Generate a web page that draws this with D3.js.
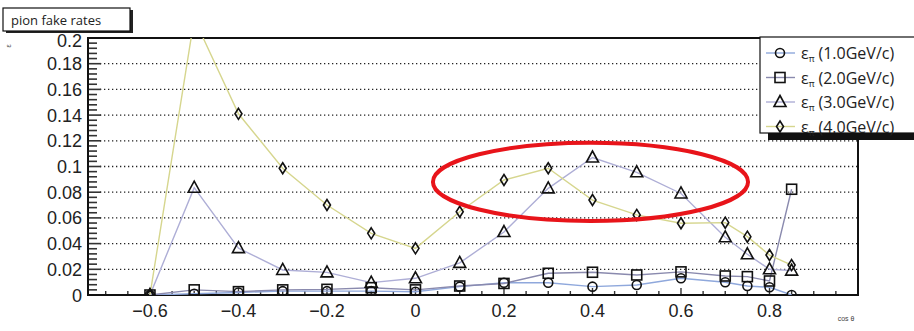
<!DOCTYPE html>
<html>
<head>
<meta charset="utf-8">
<script src="https://cdn.jsdelivr.net/npm/d3@7"></script>
<style>
  html, body { margin: 0; padding: 0; background: #fff; }
  svg { display: block; font-family: "Liberation Sans", Arial, sans-serif; }
</style>
</head>
<body>
<svg id="chart" width="914" height="331"></svg>
<script>
// cos θ bins
const cosTheta = [-0.6, -0.5, -0.4, -0.3, -0.2, -0.1, 0, 0.1, 0.2, 0.3, 0.4, 0.5, 0.6, 0.7, 0.75, 0.8, 0.85];

// fake rates per momentum
const rate1GeV = [0, 0.001, 0.002, 0.003, 0.003, 0.003, 0.0025, 0.0065, 0.0095, 0.0095, 0.0065, 0.0078, 0.013, 0.0099, 0.007, 0.006, 0];
const rate2GeV = [0, 0.004, 0.0026, 0.004, 0.0044, 0.0057, 0.004, 0.007, 0.009, 0.0169, 0.0177, 0.0156, 0.018, 0.0148, 0.0143, 0.0109, 0.0823];
const rate3GeV = [0, 0.0835, 0.0365, 0.0195, 0.0176, 0.0096, 0.013, 0.025, 0.049, 0.083, 0.107, 0.0955, 0.079, 0.0449, 0.0317, 0.020, 0.019];
const rate4GeV = [0, 0.215, 0.141, 0.0986, 0.070, 0.048, 0.0363, 0.0648, 0.0895, 0.0986, 0.0739, 0.0623, 0.0558, 0.0563, 0.0454, 0.0311, 0.0233];

const seriesLabels = ["(1.0GeV/c)", "(2.0GeV/c)", "(3.0GeV/c)", "(4.0GeV/c)"];
const seriesValues = [rate1GeV, rate2GeV, rate3GeV, rate4GeV];
const seriesColors = ["#8fa8dc", "#8a8aae", "#aeaed6", "#d6d68e"];
const seriesMarkers = ["circle", "square", "triangle", "diamond"];

const xTickLabels = [-0.6, -0.4, -0.2, 0, 0.2, 0.4, 0.6, 0.8];
const yTickLabels = [0, 0.02, 0.04, 0.06, 0.08, 0.1, 0.12, 0.14, 0.16, 0.18, 0.2];

// highlighted region (center and half-widths in data units)
const highlightCenter = [0.3955, 0.088];
const highlightRadii = [0.356, 0.0304];

const svg = d3.select("#chart");
const L = 88, R = 858, T = 38, B = 295;

const x = d3.scaleLinear().domain([-0.74, 1.0]).range([L, R]);
const y = d3.scaleLinear().domain([0, 0.2]).range([B, T]);

svg.append("defs").append("clipPath").attr("id", "plotclip")
  .append("rect").attr("x", L).attr("y", T).attr("width", R - L).attr("height", B - T);

// dotted grid at each labelled y value
svg.append("g").selectAll("line").data(yTickLabels.slice(1, -1)).join("line")
  .attr("x1", L + 12).attr("x2", R)
  .attr("y1", d => y(d)).attr("y2", d => y(d))
  .attr("stroke", "#222").attr("stroke-width", 1.3).attr("stroke-dasharray", "1.3,2.7");

// y ticks (drawn inward)
const yMinor = d3.range(0, 0.2001, 0.004);
svg.append("g").selectAll("line").data(yMinor).join("line")
  .attr("x1", L).attr("x2", d => (Math.abs(Math.round(d / 0.02) * 0.02 - d) < 1e-6) ? L + 13 : L + 9)
  .attr("y1", d => y(d)).attr("y2", d => y(d))
  .attr("stroke", "#333").attr("stroke-width", 1.6);

// x ticks (drawn inward)
const xMinor = d3.range(-0.7, 0.9501, 0.05);
svg.append("g").selectAll("line").data(xMinor).join("line")
  .attr("x1", d => x(d)).attr("x2", d => x(d))
  .attr("y1", B).attr("y2", d => (Math.abs(Math.round(d / 0.2) * 0.2 - d) < 1e-6) ? B - 7 : B - 4)
  .attr("stroke", "#333").attr("stroke-width", 1.4);

// frame
svg.append("rect").attr("x", L).attr("y", T).attr("width", R - L).attr("height", B - T)
  .attr("fill", "none").attr("stroke", "#111").attr("stroke-width", 2);

// tick labels
svg.append("g").selectAll("text").data(yTickLabels).join("text")
  .attr("x", L - 6).attr("y", d => y(d) + 6.5 + (d === 0.2 ? 2 : 0))
  .attr("text-anchor", "end").attr("font-size", 18).attr("fill", "#222")
  .text(d => d3.format("~g")(d));

svg.append("g").selectAll("text").data(xTickLabels).join("text")
  .attr("x", d => x(d)).attr("y", B + 22)
  .attr("text-anchor", "middle").attr("font-size", 18).attr("fill", "#222")
  .text(d => d3.format("~g")(d));

// axis titles
svg.append("text").attr("x", 846).attr("y", 321).attr("font-size", 7).attr("fill", "#444")
  .attr("text-anchor", "middle").text("cos θ");
svg.append("text").attr("transform", "translate(11,46) rotate(-90)").attr("font-size", 7)
  .attr("fill", "#444").attr("text-anchor", "middle").text("ε");

// markers
function drawMarker(g, type) {
  const sw = 1.6;
  if (type === "circle") g.append("circle").attr("r", 4.5).attr("fill", "none").attr("stroke", "#111").attr("stroke-width", sw);
  if (type === "square") g.append("rect").attr("x", -5).attr("y", -5).attr("width", 10).attr("height", 10).attr("fill", "none").attr("stroke", "#111").attr("stroke-width", sw);
  if (type === "triangle") g.append("path").attr("d", "M0,-6.5L6,4.5L-6,4.5Z").attr("fill", "none").attr("stroke", "#111").attr("stroke-width", sw);
  if (type === "diamond") g.append("path").attr("d", "M0,-5.5L3.5,0L0,5.5L-3.5,0Z").attr("fill", "none").attr("stroke", "#111").attr("stroke-width", sw);
}

const line = d3.line().x(d => x(d[0])).y(d => y(d[1]));
const plot = svg.append("g").attr("clip-path", "url(#plotclip)");

seriesValues.forEach((vals, i) => {
  const pts = cosTheta.map((c, j) => [c, vals[j]]);
  plot.append("path").datum(pts).attr("d", line)
    .attr("fill", "none").attr("stroke", seriesColors[i]).attr("stroke-width", 1.4);
});
seriesValues.forEach((vals, i) => {
  cosTheta.forEach((c, j) => {
    const g = plot.append("g").attr("transform", `translate(${x(c)},${y(vals[j])})`);
    drawMarker(g, seriesMarkers[i]);
  });
});

// highlight ellipse
svg.append("ellipse")
  .attr("cx", x(highlightCenter[0])).attr("cy", y(highlightCenter[1]))
  .attr("rx", x(highlightRadii[0]) - x(0)).attr("ry", y(0) - y(highlightRadii[1]))
  .attr("fill", "none").attr("stroke", "#e8141a").attr("stroke-width", 4);

// title box with drop shadow
svg.append("rect").attr("x", 6).attr("y", 10).attr("width", 127).attr("height", 23).attr("fill", "#222");
svg.append("rect").attr("x", 3).attr("y", 8).attr("width", 127).attr("height", 23)
  .attr("fill", "#fff").attr("stroke", "#111").attr("stroke-width", 1.2);
svg.append("text").attr("x", 11).attr("y", 25).attr("font-family", "'Open Sans', sans-serif")
  .attr("font-size", 13).attr("fill", "#222").text("pion fake rates");

// legend
const lg = svg.append("g");
lg.append("rect").attr("x", 768).attr("y", 133).attr("width", 150).attr("height", 7).attr("fill", "#111");
lg.append("rect").attr("x", 760).attr("y", 37).attr("width", 160).attr("height", 96)
  .attr("fill", "#fff").attr("stroke", "#111").attr("stroke-width", 1.2);
seriesLabels.forEach((lab, i) => {
  const yy = 53 + i * 24.5;
  lg.append("line").attr("x1", 766).attr("x2", 795).attr("y1", yy).attr("y2", yy)
    .attr("stroke", seriesColors[i]).attr("stroke-width", 1.4);
  drawMarker(lg.append("g").attr("transform", `translate(780,${yy})`), seriesMarkers[i]);
  const t = lg.append("text").attr("x", 801).attr("y", yy + 6).attr("font-family", "'Open Sans', sans-serif")
    .attr("font-size", 16).attr("fill", "#222");
  t.append("tspan").text("ε");
  t.append("tspan").attr("font-size", 9).attr("dy", 3).text("π");
  t.append("tspan").attr("dy", -3).attr("dx", 4).text(lab);
});
</script>
</body>
</html>
